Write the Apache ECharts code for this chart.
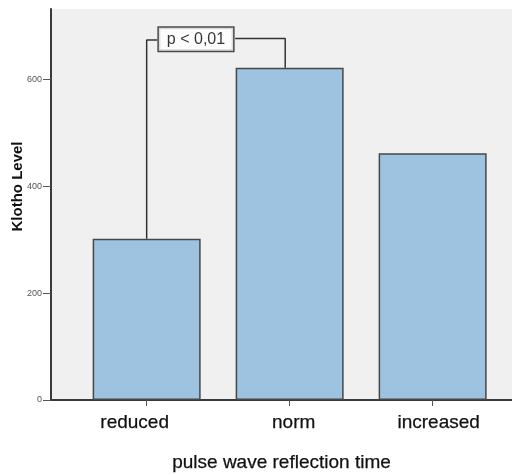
<!DOCTYPE html>
<html>
<head>
<meta charset="utf-8">
<script src="https://cdn.jsdelivr.net/npm/echarts@6/dist/echarts.min.js"></script>
<style>
  html, body { margin: 0; padding: 0; background: #ffffff; }
  #chart { width: 512px; height: 475px; }
</style>
</head>
<body>
<div id="chart"></div>
<script>
// Mean Klotho level by pulse wave reflection time group
const categories = ['reduced', 'norm', 'increased'];
const klothoLevels = [302, 622, 462];
const yTicks = [0, 200, 400, 600];

// Significance bracket between "reduced" and "norm"
const pLabel = 'p < 0,01';
const bracketLeftLevel = 674;
const bracketRightLevel = 677;

// horizontal nudges of the category labels (px, negative = left)
const labelShift = [-12, 4, 6];

const chart = echarts.init(document.getElementById('chart'), null, { renderer: 'canvas' });

const rich = {};
categories.forEach((c, i) => {
  const s = labelShift[i];
  rich['c' + i] = {
    fontFamily: 'Liberation Sans, Arial, sans-serif',
    fontSize: 19,
    color: '#111',
    textBorderColor: '#111',
    textBorderWidth: 0.25,
    padding: s < 0 ? [0, -2 * s, 0, 0] : [0, 0, 0, 2 * s]
  };
});

const option = {
  animation: false,
  backgroundColor: '#ffffff',
  grid: {
    left: 51, right: 0, top: 9, bottom: 75,
    containLabel: false,
    outerBoundsMode: 'none',
    show: true, backgroundColor: '#f0f0f0', borderWidth: 0
  },
  xAxis: {
    type: 'value',
    min: -0.669,
    max: 2.555,
    name: 'pulse wave reflection time',
    nameLocation: 'middle',
    nameGap: 53,
    nameMoveOverlap: false,
    nameTextStyle: {
      fontFamily: 'Liberation Sans, Arial, sans-serif',
      fontSize: 19,
      color: '#111',
      textBorderColor: '#111',
      textBorderWidth: 0.25
    },
    axisLine: { show: true, onZero: false, lineStyle: { color: '#3a3a3a', width: 2 } },
    axisTick: {
      show: true, length: 6, customValues: [0, 1, 2],
      lineStyle: { color: '#555', width: 1 }
    },
    axisLabel: {
      show: true,
      customValues: [0, 1, 2],
      margin: 13,
      formatter: v => {
        const i = Math.round(v);
        return '{c' + i + '|' + categories[i] + '}';
      },
      rich: rich
    },
    splitLine: { show: false }
  },
  yAxis: {
    type: 'value',
    min: 0,
    max: 732,
    name: 'Klotho Level',
    nameLocation: 'middle',
    nameGap: 26,
    nameRotate: 90,
    nameMoveOverlap: false,
    nameTextStyle: {
      fontFamily: 'Liberation Sans, Arial, sans-serif',
      fontSize: 15,
      fontWeight: 'bold',
      color: '#111',
      padding: [0, 0, 0, 36]
    },
    axisLine: { show: true, onZero: false, lineStyle: { color: '#3a3a3a', width: 2 } },
    axisTick: {
      show: true, length: 8, customValues: yTicks,
      lineStyle: { color: '#555', width: 1 }
    },
    axisLabel: {
      show: true,
      customValues: yTicks,
      margin: 9,
      fontFamily: 'Liberation Sans, Arial, sans-serif',
      fontSize: 9,
      color: '#555'
    },
    splitLine: { show: false }
  },
  series: [
    {
      type: 'bar',
      barWidth: 108,
      data: klothoLevels.map((v, i) => [i, v]),
      itemStyle: {
        color: '#9dc3e1',
        borderColor: '#474747',
        borderWidth: 1.5
      },
      z: 2
    },
    {
      type: 'line',
      symbol: 'none',
      data: [[0, klothoLevels[0]], [0, bracketLeftLevel], [0.074, bracketLeftLevel]],
      lineStyle: { color: '#333', width: 1.5 },
      z: 3
    },
    {
      type: 'line',
      symbol: 'none',
      data: [[0.619, bracketRightLevel], [0.969, bracketRightLevel], [0.969, klothoLevels[1]]],
      lineStyle: { color: '#333', width: 1.5 },
      z: 3
    },
    {
      type: 'scatter',
      symbolSize: 0,
      data: [[0.345, (bracketLeftLevel + bracketRightLevel) / 2]],
      label: {
        show: true,
        position: 'inside',
        formatter: pLabel,
        fontFamily: 'Liberation Sans, Arial, sans-serif',
        fontSize: 16,
        color: '#000',
        backgroundColor: '#ffffff',
        borderColor: '#222',
        borderWidth: 1.5,
        padding: [4, 8, 3, 8]
      },
      z: 4
    }
  ]
};

chart.setOption(option);
</script>
</body>
</html>
